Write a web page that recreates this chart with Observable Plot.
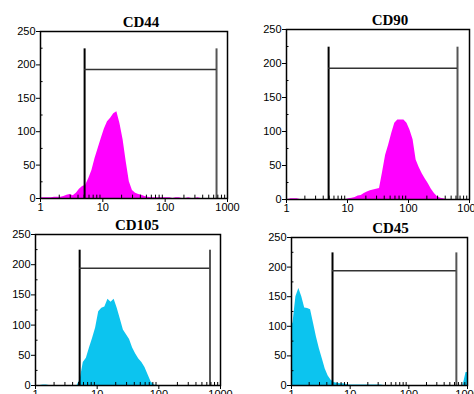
<!DOCTYPE html>
<html><head><meta charset="utf-8">
<script src="https://cdn.jsdelivr.net/npm/d3@7"></script>
<script src="https://cdn.jsdelivr.net/npm/@observablehq/plot@0.6"></script>
<style>
html,body{margin:0;padding:0;background:#fff;overflow:hidden}
#root{position:relative;width:474px;height:394px;overflow:hidden;background:#fff}
#root svg{position:absolute;overflow:visible}
</style></head><body><div id="root"></div>
<script>
// Marker names (panel titles)
const markers = ["CD44", "CD90", "CD105", "CD45"];
// Histogram counts, 60 log-spaced channels (20 per decade) from 1 to 1000
const cd44 = [1,1,1,1,2,2,2,3,5,6, 4,8,14,18,20,30,42,60,75,90, 104,115,120,127,130,112,88,55,25,12, 8,6,5,3,2,1,1,1,1,1, 1,1,0,1,1,0,0,1,0,0, 1,0,0,0,0,0,0,0,0,0];
const cd90 = [0,1,1,1,0,0,0,0,0,0, 0,0,0,0,0,0,0,0,0,0, 1,2,3,5,6,9,11,13,14,15, 16,40,65,80,97,112,117,117,117,112, 102,88,58,47,38,30,23,15,9,4, 2,1,0,0,0,0,0,0,0,0];
const cd105 = [0,0,1,1,0,0,0,0,0,0, 0,0,0,0,10,38,45,62,78,95, 122,128,130,143,138,143,128,110,92,84, 76,62,52,44,38,30,18,6,1,0, 0,0,0,0,0,0,0,0,0,0, 0,0,0,0,0,0,0,0,0,0];
const cd45 = [105,150,164,150,131,130,128,105,82,62, 45,28,16,9,5,4,3,3,2,1, 1,1,1,1,1,1,1,1,1,1, 1,0,0,0,0,0,0,0,0,0, 0,0,0,0,0,0,0,0,0,0, 0,0,0,0,0,0,0,0,0,22];
const series = [cd44, cd90, cd105, cd45];
// Gate (marker bar) values
const gateLow = [5.1, 4.9, 5.2, 5.0];
const gateHigh = [667, 636, 676, 646];
const gateLevel = [193, 193, 194, 194];
const gateTop = [224, 224, 224, 224];
// Tick values
const yTicks = [0, 50, 100, 150, 200, 250];
const yMinor = [25, 75, 125, 175, 225];
const xTicks = [1, 10, 100, 1000];
const xMinor = [2,3,4,5,6,7,8,9,20,30,40,50,60,70,80,90,200,300,400,500,600,700,800,900];

const layout = [
  {left:0,   top:0,   width:237, height:215, ml:40, mr:10, mt:31, mb:17, color:"#ff00ff", dx:7},
  {left:237, top:0,   width:237, height:215, ml:49, mr:5,  mt:29, mb:16, color:"#ff00ff", dx:12},
  {left:0,   top:215, width:237, height:195, ml:35, mr:17, mt:19, mb:25, color:"#0cc4ef", dx:9},
  {left:237, top:215, width:237, height:195, ml:54, mr:7,  mt:22, mb:25, color:"#0cc4ef", dx:11}
];

const root = document.getElementById("root");
markers.forEach((name, k) => {
  const L = layout[k];
  const counts = series[k];
  const n = counts.length;
  // bin centres on the log axis
  const rows = counts.map((c, i) => ({x: Math.pow(10, 3 * (i + 0.5) / n), y: c}));
  rows.unshift({x: 1, y: counts[0]});
  rows.push({x: 1000, y: counts[n - 1]});
  const chart = Plot.plot({
    width: L.width, height: L.height,
    marginLeft: L.ml, marginRight: L.mr, marginTop: L.mt, marginBottom: L.mb,
    style: {fontFamily: "'Liberation Sans', Arial, sans-serif", fontSize: "11px", background: "transparent", overflow: "visible"},
    x: {type: "log", domain: [1, 1000], label: null},
    y: {domain: [0, 250], label: null},
    marks: [
      Plot.areaY(rows, {x: "x", y: "y", curve: "linear", fill: L.color}),
      Plot.ruleX([gateLow[k]], {y1: 0, y2: gateTop[k], stroke: "#000", strokeWidth: 2}),
      Plot.ruleX([gateHigh[k]], {y1: 0, y2: gateTop[k], stroke: "#555", strokeWidth: 2}),
      Plot.ruleY([gateLevel[k]], {x1: gateLow[k], x2: gateHigh[k], stroke: "#333", strokeWidth: 1.5}),
      Plot.ruleX(xMinor, {x: d => d, y1: 0, y2: 5, stroke: "#000", strokeWidth: 1}),
      Plot.ruleY(yMinor, {y: d => d, x1: 1, x2: 1.1, stroke: "#000", strokeWidth: 1}),
      Plot.frame({stroke: "#000", strokeWidth: 1.5}),
      Plot.axisX({ticks: xTicks, tickFormat: d => String(d), tickSize: 4, tickPadding: 1, stroke: "#000", fill: "#000", label: null}),
      Plot.axisY({ticks: yTicks, tickSize: 4, tickPadding: 1, stroke: "#000", fill: "#000", label: null}),
      Plot.text([name], {frameAnchor: "top", lineAnchor: "bottom", dy: -5, dx: L.dx, text: d => d,
        fontFamily: "'Liberation Serif', 'Times New Roman', serif", fontSize: 15, fontWeight: 600, fill: "#000"})
    ]
  });
  chart.style.left = L.left + "px";
  chart.style.top = L.top + "px";
  root.appendChild(chart);
});
</script>
</body></html>
